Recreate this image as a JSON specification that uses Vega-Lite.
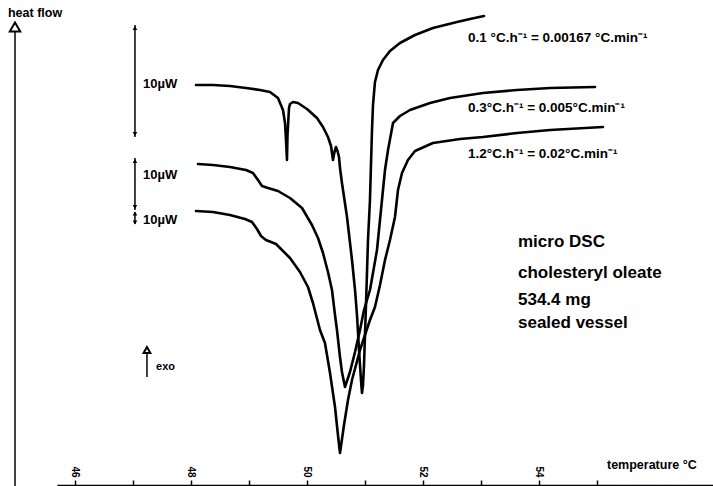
{
  "$schema": "https://vega.github.io/schema/vega-lite/v6.json",
  "width": 656,
  "height": 486,
  "padding": {"left": 57, "top": 0, "right": 0, "bottom": 0},
  "autosize": {"type": "none"},
  "background": "white",
  "config": {"view": {"stroke": null}, "font": "Liberation Sans"},
  "datasets": {
    "curves": [
      {"rate":"0.1","T":48.086,"hf":40.1},{"rate":"0.1","T":48.379,"hf":40.1},{"rate":"0.1","T":48.672,"hf":40.0},{"rate":"0.1","T":48.948,"hf":39.8},{"rate":"0.1","T":49.190,"hf":39.6},{"rate":"0.1","T":49.362,"hf":39.4},{"rate":"0.1","T":49.500,"hf":38.8},{"rate":"0.1","T":49.586,"hf":37.6},{"rate":"0.1","T":49.621,"hf":36.3},{"rate":"0.1","T":49.638,"hf":34.6},{"rate":"0.1","T":49.655,"hf":32.6},{"rate":"0.1","T":49.664,"hf":35.1},{"rate":"0.1","T":49.690,"hf":37.8},{"rate":"0.1","T":49.707,"hf":38.2},{"rate":"0.1","T":49.759,"hf":38.4},{"rate":"0.1","T":49.845,"hf":38.3},{"rate":"0.1","T":50.000,"hf":37.7},{"rate":"0.1","T":50.172,"hf":36.8},{"rate":"0.1","T":50.276,"hf":35.9},{"rate":"0.1","T":50.362,"hf":34.9},{"rate":"0.1","T":50.414,"hf":34.0},{"rate":"0.1","T":50.448,"hf":32.6},{"rate":"0.1","T":50.474,"hf":33.4},{"rate":"0.1","T":50.500,"hf":33.9},{"rate":"0.1","T":50.526,"hf":33.5},{"rate":"0.1","T":50.552,"hf":32.9},{"rate":"0.1","T":50.569,"hf":31.8},{"rate":"0.1","T":50.603,"hf":30.3},{"rate":"0.1","T":50.690,"hf":26.9},{"rate":"0.1","T":50.776,"hf":22.6},{"rate":"0.1","T":50.828,"hf":19.6},{"rate":"0.1","T":50.862,"hf":17.1},{"rate":"0.1","T":50.897,"hf":13.6},{"rate":"0.1","T":50.931,"hf":10.6},{"rate":"0.1","T":50.948,"hf":9.3},{"rate":"0.1","T":50.966,"hf":10.1},{"rate":"0.1","T":50.983,"hf":12.1},{"rate":"0.1","T":51.000,"hf":15.1},{"rate":"0.1","T":51.017,"hf":18.1},{"rate":"0.1","T":51.052,"hf":24.6},{"rate":"0.1","T":51.086,"hf":28.6},{"rate":"0.1","T":51.103,"hf":32.1},{"rate":"0.1","T":51.121,"hf":35.6},{"rate":"0.1","T":51.138,"hf":38.1},{"rate":"0.1","T":51.172,"hf":40.4},{"rate":"0.1","T":51.224,"hf":41.6},{"rate":"0.1","T":51.310,"hf":42.6},{"rate":"0.1","T":51.431,"hf":43.5},{"rate":"0.1","T":51.603,"hf":44.3},{"rate":"0.1","T":51.862,"hf":45.1},{"rate":"0.1","T":52.172,"hf":45.8},{"rate":"0.1","T":52.586,"hf":46.4},{"rate":"0.1","T":52.810,"hf":46.7},{"rate":"0.1","T":53.052,"hf":47.0},
      {"rate":"0.3","T":48.121,"hf":32.2},{"rate":"0.3","T":48.379,"hf":32.1},{"rate":"0.3","T":48.672,"hf":31.9},{"rate":"0.3","T":48.948,"hf":31.6},{"rate":"0.3","T":49.069,"hf":31.3},{"rate":"0.3","T":49.155,"hf":30.6},{"rate":"0.3","T":49.224,"hf":30.0},{"rate":"0.3","T":49.328,"hf":29.8},{"rate":"0.3","T":49.500,"hf":29.5},{"rate":"0.3","T":49.707,"hf":28.8},{"rate":"0.3","T":49.914,"hf":27.8},{"rate":"0.3","T":50.086,"hf":26.1},{"rate":"0.3","T":50.190,"hf":24.8},{"rate":"0.3","T":50.276,"hf":23.3},{"rate":"0.3","T":50.362,"hf":21.4},{"rate":"0.3","T":50.431,"hf":19.6},{"rate":"0.3","T":50.483,"hf":17.1},{"rate":"0.3","T":50.517,"hf":15.6},{"rate":"0.3","T":50.569,"hf":12.9},{"rate":"0.3","T":50.603,"hf":11.4},{"rate":"0.3","T":50.655,"hf":9.9},{"rate":"0.3","T":50.741,"hf":11.4},{"rate":"0.3","T":50.828,"hf":13.4},{"rate":"0.3","T":50.914,"hf":15.6},{"rate":"0.3","T":50.983,"hf":17.6},{"rate":"0.3","T":51.086,"hf":19.6},{"rate":"0.3","T":51.207,"hf":23.6},{"rate":"0.3","T":51.293,"hf":28.6},{"rate":"0.3","T":51.345,"hf":31.6},{"rate":"0.3","T":51.397,"hf":33.6},{"rate":"0.3","T":51.483,"hf":36.3},{"rate":"0.3","T":51.603,"hf":37.0},{"rate":"0.3","T":51.776,"hf":37.6},{"rate":"0.3","T":52.121,"hf":38.3},{"rate":"0.3","T":52.466,"hf":38.8},{"rate":"0.3","T":53.034,"hf":39.3},{"rate":"0.3","T":53.621,"hf":39.6},{"rate":"0.3","T":54.190,"hf":39.8},{"rate":"0.3","T":54.966,"hf":39.9},
      {"rate":"1.2","T":48.086,"hf":27.5},{"rate":"1.2","T":48.379,"hf":27.4},{"rate":"1.2","T":48.672,"hf":27.1},{"rate":"1.2","T":48.931,"hf":26.7},{"rate":"1.2","T":49.052,"hf":26.4},{"rate":"1.2","T":49.138,"hf":25.7},{"rate":"1.2","T":49.207,"hf":25.0},{"rate":"1.2","T":49.293,"hf":24.6},{"rate":"1.2","T":49.466,"hf":24.2},{"rate":"1.2","T":49.569,"hf":23.6},{"rate":"1.2","T":49.707,"hf":22.8},{"rate":"1.2","T":49.879,"hf":21.4},{"rate":"1.2","T":50.017,"hf":19.9},{"rate":"1.2","T":50.103,"hf":18.3},{"rate":"1.2","T":50.224,"hf":15.6},{"rate":"1.2","T":50.310,"hf":14.3},{"rate":"1.2","T":50.397,"hf":11.3},{"rate":"1.2","T":50.483,"hf":7.9},{"rate":"1.2","T":50.534,"hf":5.1},{"rate":"1.2","T":50.569,"hf":3.3},{"rate":"1.2","T":50.638,"hf":6.1},{"rate":"1.2","T":50.707,"hf":8.6},{"rate":"1.2","T":50.776,"hf":10.6},{"rate":"1.2","T":50.845,"hf":12.1},{"rate":"1.2","T":50.914,"hf":13.6},{"rate":"1.2","T":51.000,"hf":15.1},{"rate":"1.2","T":51.086,"hf":16.6},{"rate":"1.2","T":51.172,"hf":17.9},{"rate":"1.2","T":51.259,"hf":20.1},{"rate":"1.2","T":51.345,"hf":22.6},{"rate":"1.2","T":51.431,"hf":24.6},{"rate":"1.2","T":51.517,"hf":26.9},{"rate":"1.2","T":51.569,"hf":29.6},{"rate":"1.2","T":51.638,"hf":31.3},{"rate":"1.2","T":51.741,"hf":32.6},{"rate":"1.2","T":51.862,"hf":33.5},{"rate":"1.2","T":52.172,"hf":34.3},{"rate":"1.2","T":52.638,"hf":34.7},{"rate":"1.2","T":53.034,"hf":34.9},{"rate":"1.2","T":53.621,"hf":35.3},{"rate":"1.2","T":54.190,"hf":35.6},{"rate":"1.2","T":55.103,"hf":35.9}
    ],
    "rules": [
      {"name":"heat flow axis","T":44.966,"hf":0,"hf2":45.4},
      {"name":"bar1","T":47.034,"hf":46.1,"hf2":34.9},
      {"name":"bar2","T":47.034,"hf":32.8,"hf2":27.6},
      {"name":"bar3","T":47.034,"hf":27.4,"hf2":26.2},
      {"name":"exo","T":47.241,"hf":10.9,"hf2":13.4}
    ],
    "heads": [
      {"T":47.034,"hf":45.8,"dir":"up"},{"T":47.034,"hf":35.2,"dir":"down"},
      {"T":47.034,"hf":32.5,"dir":"up"},{"T":47.034,"hf":27.9,"dir":"down"},
      {"T":47.034,"hf":27.25,"dir":"up"},{"T":47.034,"hf":26.35,"dir":"down"}
    ],
    "openheads": [
      {"T":44.966,"hf":45.9,"kind":"axis"},
      {"T":47.241,"hf":13.6,"kind":"exo"}
    ],
    "bars": [
      {"T":47.172,"hf":40.2,"label":"10µW"},
      {"T":47.172,"hf":31.1,"label":"10µW"},
      {"T":47.172,"hf":26.6,"label":"10µW"}
    ],
    "rates": [
      {"T":52.776,"hf":44.8,"label":"0.1 °C.h⁻¹ =  0.00167 °C.min⁻¹"},
      {"T":52.776,"hf":37.8,"label":"0.3°C.h⁻¹ = 0.005°C.min⁻¹"},
      {"T":52.776,"hf":33.2,"label":"1.2°C.h⁻¹ = 0.02°C.min⁻¹"}
    ],
    "notes": [
      {"T":53.638,"hf":24.4,"label":"micro DSC"},
      {"T":53.638,"hf":21.3,"label":"cholesteryl oleate"},
      {"T":53.638,"hf":18.6,"label":"534.4 mg"},
      {"T":53.638,"hf":16.3,"label":"sealed  vessel"}
    ],
    "mediumtext": [
      {"T":44.845,"hf":47.3,"label":"heat flow"},
      {"T":55.172,"hf":2.1,"label":"temperature °C"}
    ],
    "smalltext": [
      {"T":47.397,"hf":11.9,"label":"exo"}
    ]
  },
  "encoding": {
    "x": {"field":"T","type":"quantitative","scale":{"domain":[45.69,57.0],"nice":false,"zero":false}},
    "y": {"field":"hf","type":"quantitative","scale":{"domain":[0,48.6],"nice":false,"zero":false},"axis":null}
  },
  "layer": [
    {
      "data": {"name":"curves"},
      "mark": {"type":"line","color":"black","strokeWidth":2.6,"strokeJoin":"round","strokeCap":"round","clip":false},
      "encoding": {
        "x": {"field":"T","type":"quantitative","title":null,
          "axis": {"orient":"bottom","offset":-1,"values":[46,47,48,49,50,51,52,53,54,55],"format":"d",
            "labelExpr":"datum.value % 2 == 0 ? datum.label : ''",
            "tickSize":-5,"tickWidth":1.5,"tickColor":"black","domainColor":"black","domainWidth":1.5,
            "labelAngle":90,"labelAlign":"right","labelBaseline":"middle","labelPadding":-3,
            "labelFontSize":10,"labelFontWeight":"bold","labelColor":"black","grid":false,"title":null}},
        "detail": {"field":"rate","type":"nominal"}
      }
    },
    {
      "data": {"name":"rules"},
      "mark": {"type":"rule","color":"black","strokeWidth":1.5,"clip":false},
      "encoding": {"y2":{"field":"hf2"}}
    },
    {
      "data": {"name":"heads"},
      "mark": {"type":"point","filled":true,"color":"black","size":22,"opacity":1,"clip":false},
      "encoding": {"shape":{"field":"dir","type":"nominal","scale":{"domain":["up","down"],"range":["triangle-up","triangle-down"]},"legend":null}}
    },
    {
      "data": {"name":"openheads"},
      "mark": {"type":"point","shape":"triangle-up","filled":false,"color":"black","strokeWidth":2,"opacity":1,"clip":false},
      "encoding": {"size":{"field":"kind","type":"nominal","scale":{"domain":["axis","exo"],"range":[110,45]},"legend":null}}
    },
    {
      "data": {"name":"bars"},
      "mark": {"type":"text","align":"left","baseline":"middle","fontSize":13,"fontWeight":"bold","color":"black"},
      "encoding": {"text":{"field":"label"}}
    },
    {
      "data": {"name":"rates"},
      "mark": {"type":"text","align":"left","baseline":"middle","fontSize":13.5,"fontWeight":"bold","color":"black"},
      "encoding": {"text":{"field":"label"}}
    },
    {
      "data": {"name":"notes"},
      "mark": {"type":"text","align":"left","baseline":"middle","fontSize":17,"fontWeight":"bold","color":"black"},
      "encoding": {"text":{"field":"label"}}
    },
    {
      "data": {"name":"mediumtext"},
      "mark": {"type":"text","align":"left","baseline":"middle","fontSize":12.5,"fontWeight":"bold","color":"black","clip":false},
      "encoding": {"text":{"field":"label"}}
    },
    {
      "data": {"name":"smalltext"},
      "mark": {"type":"text","align":"left","baseline":"middle","fontSize":11,"fontWeight":"bold","color":"black","clip":false},
      "encoding": {"text":{"field":"label"}}
    }
  ]
}
